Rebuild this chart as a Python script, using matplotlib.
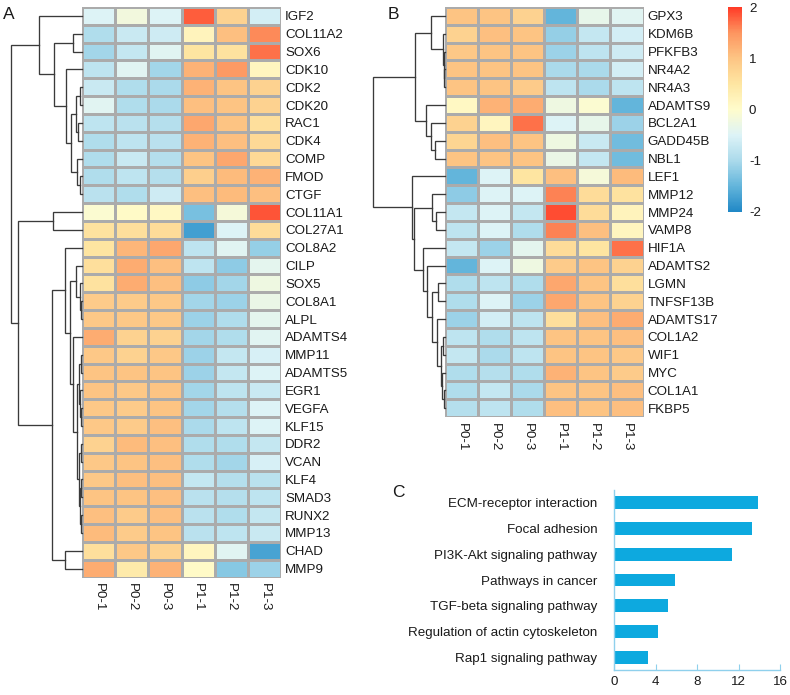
import numpy as np
import matplotlib
matplotlib.use('Agg')
import matplotlib.pyplot as plt
from matplotlib.colors import LinearSegmentedColormap

plt.rcParams['font.family'] = ['Liberation Sans', 'DejaVu Sans']

# ---------------- data ----------------
samples = ["P0-1", "P0-2", "P0-3", "P1-1", "P1-2", "P1-3"]

genes_A = ["IGF2", "COL11A2", "SOX6", "CDK10", "CDK2", "CDK20", "RAC1", "CDK4",
           "COMP", "FMOD", "CTGF", "COL11A1", "COL27A1", "COL8A2", "CILP", "SOX5",
           "COL8A1", "ALPL", "ADAMTS4", "MMP11", "ADAMTS5", "EGR1", "VEGFA", "KLF15",
           "DDR2", "VCAN", "KLF4", "SMAD3", "RUNX2", "MMP13", "CHAD", "MMP9"]
values_A = [
    [-0.50, -0.20, -0.50, 1.80, 0.80, -0.60],
    [-0.95, -0.70, -0.65, 0.20, 1.05, 1.55],
    [-1.05, -0.75, -0.45, 0.50, 0.55, 1.70],
    [-0.80, -0.45, -1.05, 1.20, 1.45, 0.15],
    [-0.70, -0.95, -1.00, 1.20, 1.00, 0.80],
    [-0.45, -0.95, -1.00, 1.05, 1.00, 0.80],
    [-0.80, -0.85, -0.90, 1.30, 1.00, 0.60],
    [-0.95, -0.80, -0.85, 1.20, 1.05, 0.70],
    [-0.95, -0.70, -0.90, 1.00, 1.30, 0.70],
    [-0.95, -0.80, -0.90, 0.85, 1.10, 1.20],
    [-0.85, -0.95, -0.65, 1.05, 1.10, 1.05],
    [-0.05, 0.05, 0.10, -1.35, -0.15, 1.85],
    [0.55, 0.60, 0.65, -1.75, -0.50, 0.65],
    [0.50, 1.15, 1.30, -0.80, -0.45, -1.15],
    [0.60, 1.25, 1.05, -0.80, -1.20, -0.40],
    [0.55, 1.25, 1.05, -1.20, -1.05, -0.25],
    [0.90, 0.90, 0.95, -1.05, -1.10, -0.30],
    [0.95, 0.95, 0.95, -1.10, -0.95, -0.40],
    [1.25, 0.80, 0.80, -1.05, -0.95, -0.45],
    [0.95, 0.80, 0.95, -1.10, -0.75, -0.55],
    [1.00, 1.00, 1.00, -1.10, -0.75, -0.50],
    [1.00, 0.95, 1.00, -1.05, -0.80, -0.70],
    [0.95, 0.90, 1.00, -1.05, -0.90, -0.50],
    [0.95, 0.90, 1.05, -1.00, -0.80, -0.50],
    [0.80, 1.10, 1.05, -0.95, -0.95, -0.75],
    [0.95, 1.00, 1.05, -0.95, -1.05, -0.55],
    [0.95, 1.05, 1.05, -0.75, -0.90, -0.85],
    [1.00, 1.00, 1.05, -0.85, -0.90, -0.80],
    [1.05, 0.90, 1.05, -0.85, -0.95, -0.75],
    [1.10, 0.90, 1.00, -0.85, -0.80, -0.70],
    [0.60, 0.95, 0.80, 0.15, -0.45, -1.70],
    [1.25, 0.40, 1.20, 0.05, -1.25, -1.10],
]
# dendrogram merges (left id, right id, height); leaves 0..n-1, merges n, n+1, ...
merges_A = [
    (4, 5, 2.3), (6, 7, 4.0), (32, 33, 6.3), (9, 10, 2.3), (8, 35, 4.7),
    (34, 36, 10.7), (3, 37, 15.7), (1, 2, 9.0), (39, 38, 28.0), (0, 40, 43.0),
    (11, 12, 29.0), (16, 17, 1.5), (15, 43, 2.3), (14, 44, 6.3), (19, 20, 1.5),
    (22, 23, 1.0), (21, 47, 2.0), (46, 48, 3.0), (24, 25, 1.5), (26, 27, 1.0),
    (28, 29, 1.5), (51, 52, 2.5), (50, 53, 3.5), (49, 54, 5.0), (18, 55, 9.0),
    (45, 56, 12.3), (13, 57, 17.3), (30, 31, 17.3), (58, 59, 30.0), (42, 60, 64.0),
    (41, 61, 70.7),
]

genes_B = ["GPX3", "KDM6B", "PFKFB3", "NR4A2", "NR4A3", "ADAMTS9", "BCL2A1", "GADD45B",
           "NBL1", "LEF1", "MMP12", "MMP24", "VAMP8", "HIF1A", "ADAMTS2", "LGMN",
           "TNFSF13B", "ADAMTS17", "COL1A2", "WIF1", "MYC", "COL1A1", "FKBP5"]
values_B = [
    [1.00, 1.00, 0.80, -1.50, -0.35, -0.45],
    [0.80, 1.05, 1.00, -1.15, -0.75, -0.60],
    [0.95, 1.00, 1.00, -1.10, -0.80, -0.65],
    [1.00, 1.00, 1.00, -1.00, -1.00, -0.60],
    [1.00, 1.00, 0.90, -0.80, -1.00, -0.80],
    [0.10, 1.20, 1.25, -0.25, -0.05, -1.50],
    [0.80, 0.15, 1.70, -0.50, -0.35, -1.10],
    [0.75, 1.05, 1.00, -0.25, -0.70, -1.40],
    [1.00, 1.00, 1.00, -0.30, -0.75, -1.40],
    [-1.50, -0.50, 0.50, 1.05, -0.15, 1.10],
    [-1.20, -0.50, -0.50, 1.60, 0.65, 0.55],
    [-0.75, -0.50, -0.75, 1.90, 0.65, 0.20],
    [-0.80, -0.50, -0.95, 1.60, 1.05, 0.15],
    [-0.75, -1.10, -0.40, 0.65, 0.50, 1.70],
    [-1.50, -0.50, -0.25, 0.90, 1.00, 0.80],
    [-0.95, -0.80, -0.95, 1.30, 1.00, 0.60],
    [-0.95, -0.50, -1.10, 1.30, 1.00, 0.80],
    [-1.10, -0.60, -0.80, 0.60, 1.05, 1.25],
    [-0.80, -0.95, -0.80, 1.00, 1.00, 1.05],
    [-0.75, -1.00, -0.80, 1.00, 1.00, 0.95],
    [-0.95, -0.90, -0.95, 1.20, 1.00, 0.90],
    [-0.95, -0.75, -1.00, 1.00, 1.00, 1.05],
    [-0.90, -0.80, -0.95, 1.05, 1.00, 1.05],
]
merges_B = [
    (3, 4, 1.0), (2, 23, 1.5), (1, 24, 2.5), (0, 25, 14.0), (7, 8, 10.0),
    (6, 27, 14.0), (5, 28, 19.0), (26, 29, 30.0), (11, 12, 9.0), (10, 31, 13.3),
    (21, 22, 1.0), (20, 33, 3.3), (18, 19, 2.3), (35, 34, 4.3), (17, 36, 8.3),
    (15, 16, 6.7), (38, 37, 13.3), (14, 39, 17.7), (13, 40, 21.7), (32, 41, 30.7),
    (9, 42, 33.3), (30, 43, 72.0),
]

pathways = ["ECM-receptor interaction", "Focal adhesion", "PI3K-Akt signaling pathway",
            "Pathways in cancer", "TGF-beta signaling pathway",
            "Regulation of actin cytoskeleton", "Rap1 signaling pathway"]
enrichment = [13.9, 13.3, 11.4, 5.9, 5.25, 4.2, 3.3]
bar_ticks = [0, 4, 8, 12, 16]

scale_values = [-2, -1.5, -1, -0.5, 0, 0.5, 1, 1.5, 2]
scale_colors = ["#2088C6", "#63B5DB", "#ABDAEB", "#DDF3F7", "#FFFCCC",
                "#FEE6A2", "#FDC584", "#FD9560", "#FF3B27"]

# ---------------- layout helpers ----------------
W, H = 790, 695
fig = plt.figure(figsize=(W / 100, H / 100), dpi=100)
fig.patch.set_facecolor('white')


def rect(x, y, w, h):
    return [x / W, 1 - (y + h) / H, w / W, h / H]


cmap = LinearSegmentedColormap.from_list(
    'hm', [((v + 2) / 4, c) for v, c in zip(scale_values, scale_colors)])

FS = 9.6
TXT = '#1a1a1a'
ROW_H = 17.83


def heatmap(x0, y0, w, values, genes):
    data = np.array(values)
    n = data.shape[0]
    ax = fig.add_axes(rect(x0, y0, w, n * ROW_H))
    mesh = ax.pcolormesh(np.arange(data.shape[1] + 1), np.arange(n + 1), data,
                         cmap=cmap, vmin=-2, vmax=2, edgecolors='#ABABAB',
                         linewidth=0.8)
    ax.set_xlim(0, data.shape[1])
    ax.set_ylim(n, 0)
    for s in ax.spines.values():
        s.set_visible(False)
    ax.set_yticks(np.arange(n) + 0.5)
    ax.set_yticklabels(genes, fontsize=FS, color=TXT)
    ax.yaxis.tick_right()
    ax.set_xticks(np.arange(data.shape[1]) + 0.5)
    ax.set_xticklabels(samples, fontsize=FS, color=TXT, rotation=270,
                       ha='center', va='top')
    ax.tick_params(axis='both', length=0)
    ax.tick_params(axis='y', pad=3)
    ax.tick_params(axis='x', pad=4)
    return ax, mesh


def dendro(x0, y0, w, n, merges):
    ax = fig.add_axes(rect(x0, y0, w, n * ROW_H))
    ax.set_xlim(w, 0)
    ax.set_ylim(n, 0)
    ax.axis('off')
    pos = {i: (i + 0.5, 0.0) for i in range(n)}
    for k, (a, b, h) in enumerate(merges):
        ya, ha = pos[a]
        yb, hb = pos[b]
        ax.plot([ha, h, h, hb], [ya, ya, yb, yb], color='#3a3a3a', lw=0.95,
                clip_on=False, solid_joinstyle='miter')
        pos[n + k] = ((ya + yb) / 2, h)


# Panel A
axA, meshA = heatmap(82, 7, 199, values_A, genes_A)
dendro(0, 7, 82, len(genes_A), merges_A)

# Panel B
axB, meshB = heatmap(445, 7, 198.5, values_B, genes_B)
dendro(370, 7, 75, len(genes_B), merges_B)

# Colorbar
cax = fig.add_axes(rect(728, 7, 14, 205))
cb = fig.colorbar(meshB, cax=cax, ticks=[-2, -1, 0, 1, 2])
cb.ax.set_yticklabels(['-2', '-1', '0', '1', '2'], fontsize=FS, color=TXT)
cb.outline.set_visible(False)
cb.ax.tick_params(length=0, pad=5)

# Panel C
axC = fig.add_axes(rect(614, 490, 166, 180))
ypos = np.arange(len(pathways))
axC.barh(ypos, enrichment, height=0.5, color='#0DA9DF')
axC.set_ylim(len(pathways) - 0.5, -0.5)
axC.set_xlim(0, 16)
axC.set_xticks(bar_ticks)
axC.set_xticklabels([str(t) for t in bar_ticks], fontsize=FS, color=TXT)
axC.set_yticks(ypos)
axC.set_yticklabels(pathways, fontsize=FS, color=TXT)
for s in ['top', 'right']:
    axC.spines[s].set_visible(False)
for s in ['left', 'bottom']:
    axC.spines[s].set_color('#8FD0EC')
    axC.spines[s].set_linewidth(1.0)
axC.tick_params(axis='y', length=0, pad=12)
axC.tick_params(axis='x', length=4, direction='in', color='#8FD0EC', pad=4)

# panel letters
fig.text(3 / W, 1 - 19 / H, 'A', fontsize=12.5, color=TXT)
fig.text(388 / W, 1 - 19 / H, 'B', fontsize=12.5, color=TXT)
fig.text(392 / W, 1 - 497 / H, 'C', fontsize=12.5, color=TXT)

fig.savefig('out.png', dpi=100, facecolor='white')
